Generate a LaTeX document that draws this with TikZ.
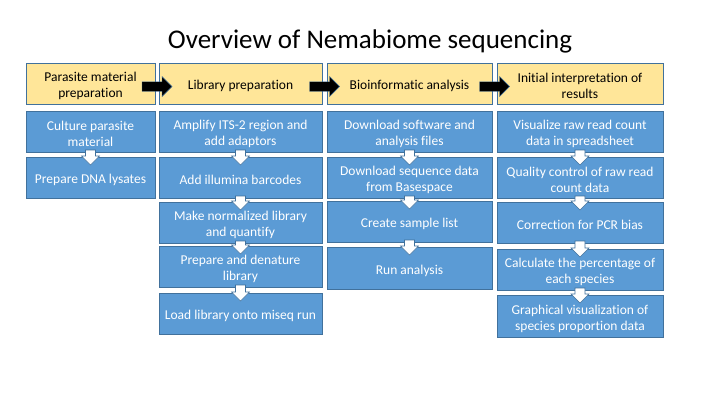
\documentclass[tikz,border=0pt]{standalone}
\usepackage{fontspec}
\setmainfont{Carlito}[Ligatures=NoCommon]
\usetikzlibrary{calc}

\definecolor{hdrfill}{HTML}{FFE699}
\definecolor{boxfill}{HTML}{5B9BD5}
\definecolor{edge}{HTML}{41719C}

\tikzset{
  base/.style={rectangle, draw=edge, line width=0.8pt, inner sep=0pt, outer sep=0pt},
  basetext/.style={align=center, inner sep=0pt,
    font=\fontsize{13.5}{16.2}\selectfont},
  hdr/.style={base, fill=hdrfill},
  hdr text/.style={basetext, text=black},
  stepbox/.style={base, fill=boxfill},
  stepbox text/.style={basetext, text=white},
  fwd/.style={fill=black, draw=edge, line width=0.4pt},
  down/.style={fill=white, draw=edge, line width=0.6pt},
  titletext/.style={font=\fontsize{27}{32}\selectfont, text=black},
}

% box from its corners: name, style, x1, y1, x2, y2, text
\newcommand{\bx}[7]{%
  \node[#2, minimum width={(#5-#3)*1pt}, minimum height={(#6-#4)*1pt}]
    (#1) at ({(#3+#5)/2},{(#4+#6)/2}) {};
  \node[#2 text] (#1-t) at ($(#1.center)+(0,2.5)$) {#7};}

% white block arrow pointing down from one box into the next
\newcommand{\dnarrow}[2]{%
  \draw[down] ($(#1.south)+(-5,-2)$) -- ($(#1.south)+(5,-2)$)
    -- ($(#2.north)+(5,-1)$) -- ($(#2.north)+(9,-1)$)
    -- ($(#2.north)+(0,8)$)
    -- ($(#2.north)+(-9,-1)$) -- ($(#2.north)+(-5,-1)$) -- cycle;}

% black block arrow pointing right between two headers
\newcommand{\fwdarrow}[2]{%
  \draw[fwd] let \p1=(#1.east), \p2=(#2.west),
      \n1={(\x1+\x2)/2}, \n2={\y1-3pt} in
    ({\n1-15pt},{\n2+4.75pt}) -- ({\n1+5pt},{\n2+4.75pt})
    -- ({\n1+5pt},{\n2+10pt}) -- ({\n1+15pt},\n2)
    -- ({\n1+5pt},{\n2-10pt}) -- ({\n1+5pt},{\n2-4.75pt})
    -- ({\n1-15pt},{\n2-4.75pt}) -- cycle;}

\begin{document}
\begin{tikzpicture}[x=1pt, y=-1pt]
\useasboundingbox (0,0) rectangle (720,405);

\node[titletext] (title) at (370,41) {Overview of Nemabiome sequencing};

% column headers
\bx{h1}{hdr}{26}{63}{155}{104}{Parasite material\\preparation}
\bx{h2}{hdr}{159}{63}{322}{104}{Library preparation}
\bx{h3}{hdr}{327}{63}{492}{104}{Bioinformatic analysis}
\bx{h4}{hdr}{497}{63}{663}{104}{Initial interpretation of\\results}

% parasite material
\bx{a1}{stepbox}{26}{111}{155}{152}{Culture parasite\\material}
\bx{a2}{stepbox}{26}{157}{155}{198}{Prepare DNA lysates}

% library preparation
\bx{b1}{stepbox}{159}{111}{322}{152}{Amplify ITS-2 region and\\add adaptors}
\bx{b2}{stepbox}{159}{157}{322}{198}{Add illumina barcodes}
\bx{b3}{stepbox}{159}{202}{322}{243}{Make normalized library\\and quantify}
\bx{b4}{stepbox}{159}{246}{322}{287}{Prepare and denature\\library}
\bx{b5}{stepbox}{159}{293}{322}{334}{Load library onto miseq run}

% bioinformatic analysis
\bx{c1}{stepbox}{327}{111}{492}{152}{Download software and\\analysis files}
\bx{c2}{stepbox}{327}{157}{492}{198}{Download sequence data\\from Basespace}
\bx{c3}{stepbox}{327}{201}{492}{242}{Create sample list}
\bx{c4}{stepbox}{327}{247}{492}{289}{Run analysis}

% interpretation
\bx{d1}{stepbox}{497}{111}{663}{152}{Visualize raw read count\\data in spreadsheet}
\bx{d2}{stepbox}{497}{157}{663}{198}{Quality control of raw read\\count data}
\bx{d3}{stepbox}{497}{202}{663}{243}{Correction for PCR bias}
\bx{d4}{stepbox}{497}{249}{663}{290}{Calculate the percentage of\\each species}
\bx{d5}{stepbox}{497}{295}{663}{337}{Graphical visualization of\\species proportion data}

% flow between headers
\fwdarrow{h1}{h2}
\fwdarrow{h2}{h3}
\fwdarrow{h3}{h4}

% flow within columns
\dnarrow{a1}{a2}
\dnarrow{b1}{b2}
\dnarrow{b2}{b3}
\dnarrow{b3}{b4}
\dnarrow{b4}{b5}
\dnarrow{c1}{c2}
\dnarrow{c2}{c3}
\dnarrow{c3}{c4}
\dnarrow{d1}{d2}
\dnarrow{d2}{d3}
\dnarrow{d3}{d4}
\dnarrow{d4}{d5}
\end{tikzpicture}
\end{document}
